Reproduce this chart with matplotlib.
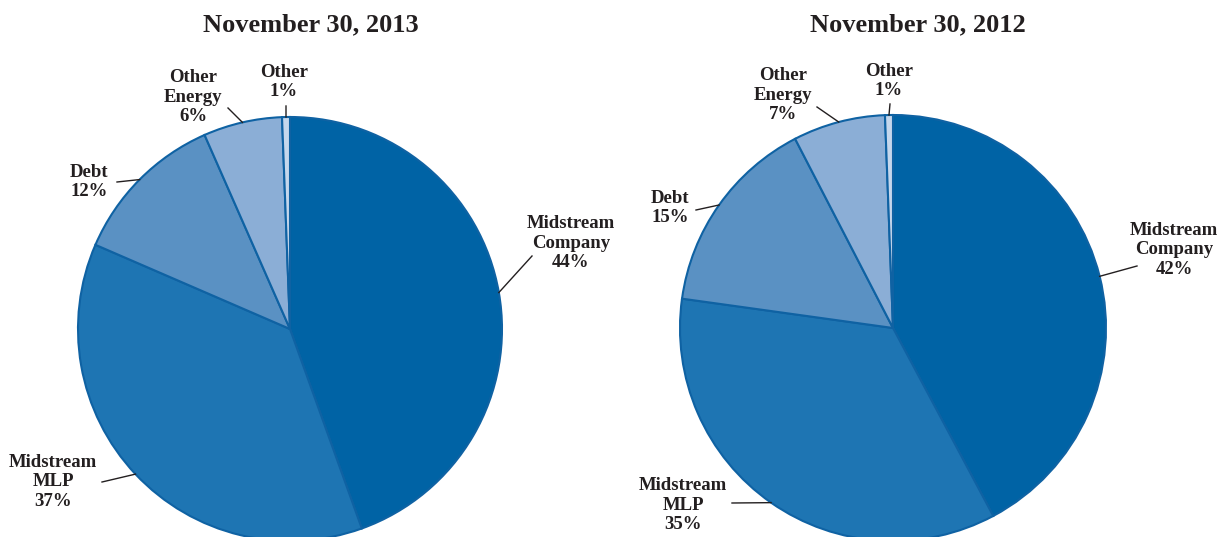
import matplotlib.pyplot as plt
import numpy as np

plt.rcParams['font.family'] = ['Liberation Serif', 'DejaVu Serif']

categories = ['Midstream\nCompany', 'Midstream\nMLP', 'Debt', 'Other\nEnergy', 'Other']
shares_2013 = [44.5, 37.0, 11.9, 6.0, 0.6]
shares_2012 = [42.2, 35.0, 15.2, 7.0, 0.6]
pct_2013 = ['44%', '37%', '12%', '6%', '1%']
pct_2012 = ['42%', '35%', '15%', '7%', '1%']
titles = ['November 30, 2013', 'November 30, 2012']
colors = ['#0063a5', '#1e75b3', '#5a91c3', '#8baed6', '#c5d7ec']

W, H = 1220, 537
fig = plt.figure(figsize=(12.2, 5.37), dpi=100)
ax = fig.add_axes([0, 0, 1, 1])

# layout in pixels (y measured from top)
pies = [
    dict(center=(290, 329), radius=212, title_x=311,
         text=[(571, 243), (53, 482), (89, 182), (193, 97), (284, 82)],
         line_end=[(532, 256), (102, 482), (117, 182), (228, 108), (286, 106)]),
    dict(center=(893, 328), radius=213, title_x=918,
         text=[(1174, 250), (683, 505), (670, 208), (783, 95), (889, 81)],
         line_end=[(1137, 266), (732, 503), (696, 210), (817, 107), (890, 104)]),
]

for shares, pcts, title, p in zip([shares_2013, shares_2012], [pct_2013, pct_2012], titles, pies):
    cx, cy = p['center']
    r = p['radius']
    wedges, _ = ax.pie(shares, colors=colors, startangle=90, counterclock=False,
                       center=(cx, H - cy), radius=r, frame=True,
                       wedgeprops=dict(edgecolor='#0f62a3', linewidth=1.5))
    for w, cat, pct, (tx, ty), (lx, ly) in zip(wedges, categories, pcts, p['text'], p['line_end']):
        ang = np.deg2rad((w.theta1 + w.theta2) / 2)
        ex = cx + r * np.cos(ang)
        ey = (H - cy) + r * np.sin(ang)
        ax.plot([lx, ex], [H - ly, ey], color='#231f20', lw=1.0)
        ax.text(tx, H - ty, cat + '\n' + pct, ha='center', va='center',
                fontsize=13.5, fontweight='bold', color='#231f20', linespacing=1.2)
    ax.text(p['title_x'], H - 25, title, ha='center', va='center',
            fontsize=19, fontweight='bold', color='#231f20')

ax.set_xlim(0, W)
ax.set_ylim(0, H)
ax.set_aspect('equal')
ax.axis('off')

fig.savefig('out.png', dpi=100)
